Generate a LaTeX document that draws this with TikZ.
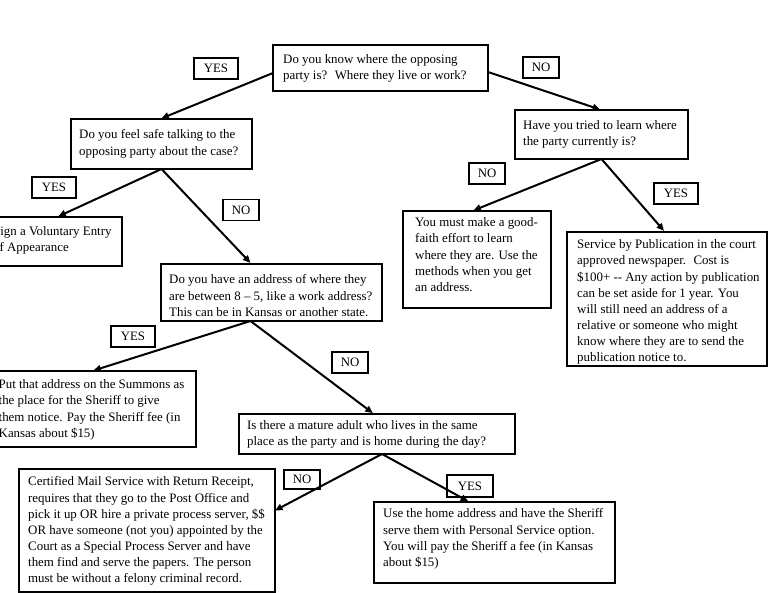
\documentclass[tikz,border=0pt]{standalone}
\usepackage{fontspec}
\setmainfont{Liberation Serif}
\usetikzlibrary{arrows.meta}
\tikzset{
  box/.style={draw, line width=1.3pt, inner sep=0pt, outer sep=0pt},
  txt/.style={inner sep=0pt, align=left, font=\fontsize{12.9}{16.1}\selectfont, anchor=north west, yshift=6.3pt, execute at begin node=\strut},
  lbl/.style={draw, line width=1.3pt, inner sep=0pt, minimum height=21pt, font=\fontsize{12.8}{15}\selectfont},
  yesl/.style={lbl, minimum width=44pt},
  nol/.style={lbl, minimum width=36pt},
  arr/.style={line width=2pt, -{Triangle[length=7.5pt,width=6.5pt]}, shorten >=1.5pt},
}
\newcommand{\mkbox}[5]{\node[box, minimum width={#4-(#2)}, minimum height={#5-(#3)}] (#1) at ({(#2+#4)/2},{(#3+#5)/2}) {};}
\begin{document}
\begin{tikzpicture}[x=1pt,y=-1pt]
\useasboundingbox (0,0) rectangle (768,593);
\clip (0,0) rectangle (768,593);
% boxes
\mkbox{q1}{273}{45}{488}{91}
\mkbox{q2}{71}{119}{252}{169}
\mkbox{q3}{515}{110}{688}{159}
\mkbox{sign}{-30}{217}{122}{266}
\mkbox{q4}{161}{264}{382}{321}
\mkbox{put}{-30}{371}{196}{447}
\mkbox{q5}{239}{414}{515}{454}
\mkbox{cert}{19}{469}{275}{592}
\mkbox{home}{374}{502}{615}{583}
\mkbox{gf}{403}{211}{551}{308}
\mkbox{serv}{567}{232}{767}{366}
% texts
\node[txt] (q1t) at (283,61) {Do you know where the opposing\\party is?~ Where they live or work?};
\node[txt] (q2t) at (79,136) {Do you feel safe talking to the\\opposing party about the case?};
\node[txt] (q3t) at (523,127) {Have you tried to learn where\\the party currently is?};
\node[txt] (signt) at (-7,233) {Sign a Voluntary Entry\\of Appearance};
\node[txt] (q4t) at (169,281) {Do you have an address of where they\\are between 8 – 5, like a work address?\\This can be in Kansas or another state.};
\node[txt] (putt) at (-1.5,386) {Put that address on the Summons as\\the place for the Sheriff to give\\them notice. Pay the Sheriff fee (in\\Kansas about \$15)};
\node[txt] (q5t) at (247,427) {Is there a mature adult who lives in the same\\place as the party and is home during the day?};
\node[txt] (certt) at (28,483) {Certified Mail Service with Return Receipt,\\requires that they go to the Post Office and\\pick it up OR hire a private process server, \$\$\\OR have someone (not you) appointed by the\\Court as a Special Process Server and have\\them find and serve the papers. The person\\must be without a felony criminal record.};
\node[txt] (homet) at (383,515) {Use the home address and have the Sheriff\\serve them with Personal Service option.\\You will pay the Sheriff a fee (in Kansas\\about \$15)};
\node[txt] (gft) at (415,224) {You must make a good-\\faith effort to learn\\where they are. Use the\\methods when you get\\an address.};
\node[txt] (servt) at (577,246) {Service by Publication in the court\\approved newspaper.~ Cost is\\\$100+ -{}- Any action by publication\\can be set aside for 1 year. You\\will still need an address of a\\relative or someone who might\\know where they are to send the\\publication notice to.};
% labels
\node[yesl] (y1) at (216,68.5) {YES};
\node[nol] (n1) at (541,67.5) {NO};
\node[yesl] (y2) at (54,187.5) {YES};
\node[nol] (n2) at (241,210) {NO};
\node[yesl] (y3) at (133,336.5) {YES};
\node[nol] (n3) at (350,362.5) {NO};
\node[nol] (n4) at (487,173.5) {NO};
\node[yesl] (y4) at (676,193.5) {YES};
\node[nol, minimum height=19pt] (n5) at (302,479.5) {NO};
\node[yesl, minimum width=46pt, minimum height=22pt] (y5) at (470,486) {YES};
% arrows
\draw[arr] ([yshift=-5pt]q1.west) -- ([xshift=-1.5pt]q2.north);
\draw[arr] ([yshift=-4pt]q1.east) -- (q3.north);
\draw[arr] (q2.south) -- ([xshift=-65pt]sign.north east);
\draw[arr] (q2.south) -- ([xshift=-20pt]q4.north);
\draw[arr] ([xshift=-21pt]q4.south) -- ([xshift=-104pt]put.north east);
\draw[arr] ([xshift=-21pt]q4.south) -- ([xshift=-3pt]q5.north);
\draw[arr, shorten >=0pt] ([xshift=5pt]q5.south) -- ([yshift=20pt]cert.east);
\draw[arr] ([xshift=5pt]q5.south) -- ([xshift=-25pt]home.north);
\draw[arr] (q3.south) -- ([xshift=-5pt]gf.north);
\draw[arr] (q3.south) -- ([xshift=-2pt]serv.north);
\end{tikzpicture}
\end{document}
